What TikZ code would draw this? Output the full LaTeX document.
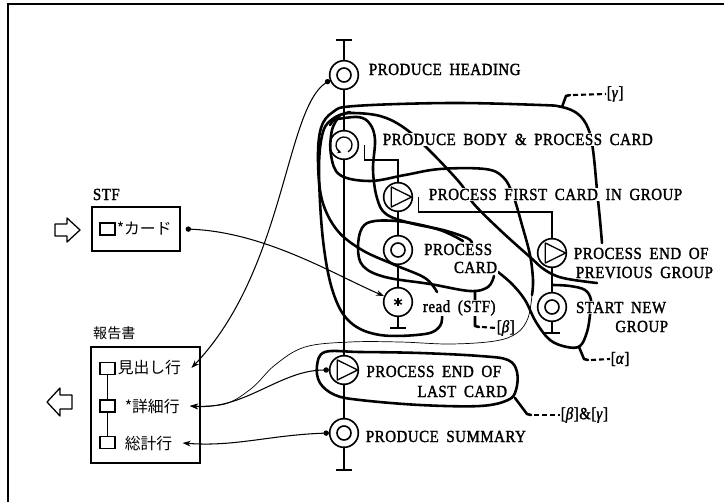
\documentclass[tikz,border=0pt]{standalone}
\usepackage{fontspec}
\setmainfont{Liberation Serif}[FakeStretch=0.88,LetterSpace=3,WordSpace=1.8,FakeBold=1.6]
\newfontfamily\jpfont{Noto Sans CJK JP}
\usetikzlibrary{arrows.meta,calc}
\newcommand\lblsize{\fontsize{14.5}{16}\selectfont}

\begin{document}
\begin{tikzpicture}[x=0.03cm,y=-0.03cm,
  stepnode/.style={circle,draw,line width=1.4pt,minimum size=8.6mm,inner sep=0pt,fill=white},
  seqnode/.style={stepnode,path picture={\draw[line width=1.4pt] (path picture bounding box.center) circle (2.1mm);}},
  selnode/.style={stepnode,path picture={\draw[line width=1.1pt,line join=round]
      ($(path picture bounding box.center)+(-2mm,3mm)$) -- ++(0,-6mm) -- ($(path picture bounding box.center)+(4.1mm,0)$) -- cycle;}},
  loopnode/.style={stepnode,path picture={\draw[line width=1.1pt,-{Stealth[length=1.2mm,width=1.3mm]}]
      ($(path picture bounding box.center)+(-60:2.4mm)$) arc[start angle=-60,end angle=250,radius=2.4mm];}},
  readnode/.style={stepnode,path picture={\foreach \a in {90,30,150}
      \draw[line width=1.2pt] ($(path picture bounding box.center)+(\a:1.3mm)$) -- ($(path picture bounding box.center)+(\a+180:1.3mm)$);}},
  struct/.style={line width=0.9pt},
  blob/.style={line width=2.2pt,line cap=round,line join=round},
  tagdash/.style={line width=1.8pt,dash pattern=on 1.5mm off 0.9mm},
  dotflow/.style={line width=0.9pt,{Circle[length=1.6mm]}-{Stealth[length=2.4mm,width=1.7mm]}},
  lbl/.style={font=\lblsize,fill=white,inner sep=0.6pt},
  tag/.style={font=\lblsize,inner sep=0.5pt,anchor=west},
  jp/.style={font=\jpfont\fontsize{13.5}{15}\selectfont,inner xsep=3pt,inner ysep=1pt,anchor=west},
  sqbox/.style={draw,line width=1pt,minimum width=4.5mm,minimum height=3.6mm,inner sep=0pt}]
\useasboundingbox (0,0) rectangle (724,502);
% frame
\draw[line width=1.2pt] (8,502) -- (8,4) -- (724,4);

% main structure
\node[seqnode] (ph) at (344,75) {};
\node[loopnode] (loop) at (344,145) {};
\node[selnode] (pfc) at (398,197) {};
\node[seqnode] (pc) at (398,250) {};
\node[readnode] (rd) at (398,302) {};
\node[selnode] (pepg) at (552,253) {};
\node[seqnode] (sng) at (552,307) {};
\node[selnode] (pelc) at (344,370) {};
\node[seqnode] (ps) at (344,433) {};
\coordinate (top) at (344,40);
\coordinate (bot) at (344,470);
\coordinate (rdT) at (398,328);
\coordinate (sngT) at (552,333);
\draw[struct] (top) -- (ph) -- (loop) -- (pelc) -- (ps) -- (bot);
\draw[struct] ([xshift=1.5mm]loop.east) -- ++(0,15) -| (pfc);
\draw[struct] (pfc) -- (pc) -- (rd) -- (rdT);
\draw[struct] ([xshift=1.5mm]pfc.east) -- ++(0,15) -| (pepg);
\draw[struct] (pepg) -- (sng) -- (sngT);
\foreach \e in {top,bot,rdT,sngT}
  \draw[struct] ([xshift=-2.4mm]\e) -- ([xshift=2.4mm]\e);

% hand drawn outlines
\draw[blob] plot[smooth,tension=0.6] coordinates {(437,292) (425,278) (395,265) (362,250) (337,230) (322,200) (318,160) (321,128) (333,112) (355,106) (450,103) (540,105) (562,107) (578,114) (588,128) (593,150) (597,190) (600,220) (602,243)};
\draw[blob] plot[smooth,tension=0.6] coordinates {(442,314) (440,326) (425,334) (380,335) (350,322) (333,292) (323,240) (319,170) (323,132) (334,118) (350,112)};
\draw[blob] plot[smooth,tension=0.6] coordinates {(332,120) (358,117) (370,124) (375,140) (373,170) (377,198) (386,214) (410,223) (443,230) (467,238) (472,243)};
\draw[blob] plot[smooth,tension=0.6] coordinates {(330,125) (338,116) (352,113) (380,116) (403,127) (427,148) (460,183) (473,203) (500,230) (530,257) (545,270) (563,278) (597,283)};
\draw[blob] plot[smooth,tension=0.6] coordinates {(340,115) (332,130) (331,155) (340,175) (370,181) (405,175) (440,169) (485,169) (503,177) (513,195) (522,225) (530,255) (533,280) (532,295)};
\draw[blob] plot[smooth,tension=0.6] coordinates {(463,241) (440,230) (405,222) (375,221) (362,228) (358,248) (363,266) (385,277) (430,284) (470,291) (488,287) (494,276)};
\draw[blob] plot[smooth,tension=0.6] coordinates {(498,272) (512,284) (525,300) (536,322) (550,340) (567,347) (580,346) (587,332) (590,315) (591,300) (585,290) (570,286) (553,285)};
\draw[blob] plot[smooth cycle,tension=0.6] coordinates {(325,352) (360,352) (420,353) (480,356) (508,360) (517,372) (516,390) (508,400) (480,406) (420,405) (360,400) (335,395) (320,383) (317,366)};

% tags
\node[tag] (gam) at (606,94) {[\textit{γ}]};
\node[tag] (bet) at (496,328) {[\textit{β}]};
\node[tag] (alp) at (610,359) {[\textit{α}]};
\node[tag] (bg) at (560,415) {[\textit{β}]\&[\textit{γ}]};
\draw[blob] (562,107) -- (566,96) -- (570,95);
\draw[tagdash] (573,95) -- (gam.west);
\draw[blob] (475,291) -- (475,326) -- (479,327);
\draw[tagdash] (482,327) -- (bet.west);
\draw[blob] (579,347) -- (584,359) -- (588,360);
\draw[tagdash] (591,360) -- (alp.west);
\draw[blob] (515,398) -- (527,414) -- (531,415);
\draw[tagdash] (534,415) -- (bg.west);

% labels
\node[lbl,anchor=base west] (phl) at (368,75) {PRODUCE HEADING};
\node[lbl,anchor=base west] (loopl) at (382,145) {PRODUCE BODY \& PROCESS CARD};
\node[lbl,anchor=base west] (pfcl) at (428,200) {PROCESS FIRST CARD IN GROUP};
\node[lbl,anchor=base east] (pcl) at (493,255) {PROCESS};
\node[lbl,anchor=base east] (pclb) at (498,273) {CARD};
\node[lbl,anchor=base west] (rdl) at (422,312) {read (STF)};
\node[lbl,anchor=base west] (pepgl) at (573,259) {PROCESS END OF};
\node[lbl,anchor=base west] (pepglb) at (575,278) {PREVIOUS GROUP};
\node[lbl,anchor=base east] (sngl) at (667,313) {START NEW};
\node[lbl,anchor=base east] (snglb) at (669,332) {GROUP};
\node[lbl,anchor=base east] (pelcl) at (502,377) {PROCESS END OF};
\node[lbl,anchor=base east] (pelclb) at (508,397) {LAST CARD};
\node[lbl,anchor=base west] (psl) at (365,442) {PRODUCE SUMMARY};

% files
\node[draw,line width=1.1pt,minimum width=26.4mm,minimum height=13.2mm,inner sep=0pt] (stf) at (136,229) {};
\node[lbl,anchor=base west,fill=none] (stft) at (92,200) {STF};
\node[sqbox] (stfsq) at (107.5,229) {};
\node[jp] (card) at (113,229) {*カード};
\node[draw,line width=1.1pt,minimum width=32.7mm,minimum height=34.8mm,inner sep=0pt] (rep) at (145.5,405) {};
\node[jp,font=\jpfont\fontsize{12}{14}\selectfont,anchor=base west,inner xsep=0pt] (rept) at (93,338) {報告書};
\node[sqbox] (sq1) at (107.5,368.5) {};
\node[sqbox] (sq2) at (107.5,406) {};
\node[sqbox] (sq3) at (107.5,442.5) {};
\draw[struct] (sq1) -- (sq2) -- (sq3);
\node[jp] (l1) at (114,368) {見出し行};
\node[jp] (l2) at (121,406) {*詳細行};
\node[jp] (l3) at (121,443) {総計行};
\draw[line width=1.1pt,line join=round] (55,224) -- (67,224) -- (67,218) -- (80,230) -- (67,242) -- (67,236) -- (55,236) -- cycle;
\draw[line width=1.1pt,line join=round] (72,395) -- (60,395) -- (60,388) -- (47,402) -- (60,416) -- (60,409) -- (72,409) -- cycle;

% data flows
\draw[dotflow] ([xshift=1.5mm]stf.east) .. controls (265,232) and (335,275) .. (rd);
\draw[dotflow] (ph.200) .. controls (285,110) and (285,270) .. ([xshift=2mm]l1.east);
\draw[dotflow] (pelc.west) .. controls (280,370) and (245,410) .. ([xshift=2mm]l2.east);
\draw[line width=0.6pt,-{Stealth[length=2.4mm,width=1.7mm]}] plot[smooth,tension=0.6] coordinates {(532,295) (528,318) (517,333) (495,341) (450,344) (400,342) (350,342) (305,347) (275,365) (252,388) (225,404) ([xshift=2mm]l2.east)};
\draw[dotflow] (ps.west) .. controls (270,435) and (235,447) .. ([xshift=2mm]l3.east);
\end{tikzpicture}
\end{document}
